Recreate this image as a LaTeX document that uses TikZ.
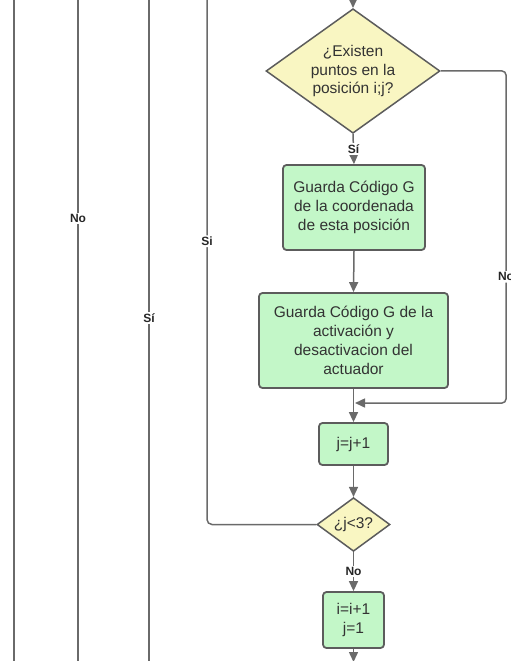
\documentclass[tikz,border=0pt]{standalone}
\usepackage{fontspec}
\setmainfont{Liberation Sans}
\usetikzlibrary{shapes.geometric,arrows.meta}
\definecolor{procfill}{HTML}{C3F7C8}
\definecolor{decfill}{HTML}{F9F6C2}
\definecolor{edge}{HTML}{5C5C5C}
\definecolor{wire}{HTML}{6A6A6A}
\tikzset{
  proc/.style={draw=edge, line width=1.8pt, fill=procfill, rounded corners=3.5pt,
    align=center, inner sep=2pt, font=\fontsize{15.5}{18.8}\selectfont, text=black!80},
  dec/.style={draw=edge, line width=1.5pt, fill=decfill, shape=diamond, inner sep=-3pt,
    align=center, font=\fontsize{15.5}{18.8}\selectfont, text=black!80},
  wireline/.style={draw=wire, line width=1.5pt},
  arr/.style={wireline, -{Triangle[width=9pt,length=10pt]}},
  lbl/.style={fill=white, inner sep=1.5pt, font=\bfseries\fontsize{12}{14}\selectfont, text=black!85}
}
\begin{document}
\begin{tikzpicture}[x=1pt,y=-1pt]
\useasboundingbox (0,0) rectangle (511,661);

% flow column
\node[dec, minimum width=174pt, minimum height=98pt] (q1) at (353,71) {¿Existen\\puntos en la\\posición i;j?};
\node[proc, minimum width=142pt, minimum height=85pt] (b1) at (354,207.5) {Guarda Código G\\de la coordenada\\de esta posición};
\node[proc, minimum width=189pt, minimum height=95pt] (b2) at (353.5,340.5) {Guarda Código G de la\\activación y\\desactivacion del\\actuador};
\node[proc, minimum width=69pt, minimum height=42pt] (b3) at (353.5,444) {j=j+1};
\node[dec, minimum width=73pt, minimum height=49pt, inner sep=0pt] (q2) at (353.5,524.5) {¿j<3?};
\node[proc, minimum width=61pt, minimum height=56pt] (b4) at (353.5,620) {i=i+1\\j=1};

% free ends and bends
\coordinate (topin) at (353,0);
\coordinate (botout) at (353.5,662);
\coordinate (rc) at (506,403);
\coordinate (mrg) at (355,403);
\coordinate (loopTop) at (207,0);

% outer loop lines
\coordinate (l1t) at (14,0);   \coordinate (l1b) at (14,661);
\coordinate (l2t) at (78,0);   \coordinate (l2b) at (78,661);
\coordinate (l3t) at (149,0);  \coordinate (l3b) at (149,661);
\draw[wireline] (l1t) -- (l1b);
\draw[wireline] (l2t) -- node[lbl, pos=0.331]{No} (l2b);
\draw[wireline] (l3t) -- node[lbl, pos=0.481]{Sí} (l3b);

% connectors
\draw[arr] (topin) -- (q1.north);
\draw[arr] (q1.south) -- node[lbl]{Sí} (b1.north);
\draw[arr] (b1.south) -- (b2.north);
\draw[arr, rounded corners=4pt] (q1.east) -| node[lbl, pos=0.81]{No} (rc) -- (mrg);
\draw[arr] (b2.south) -- (b3.north);
\draw[arr] (b3.south) -- (q2.north);
\draw[wireline, rounded corners=5pt] (q2.west) -| node[lbl, pos=0.77]{Si} (loopTop);
\draw[arr] (q2.south) -- node[lbl]{No} (b4.north);
\draw[arr] (b4.south) -- (botout);
\end{tikzpicture}
\end{document}
